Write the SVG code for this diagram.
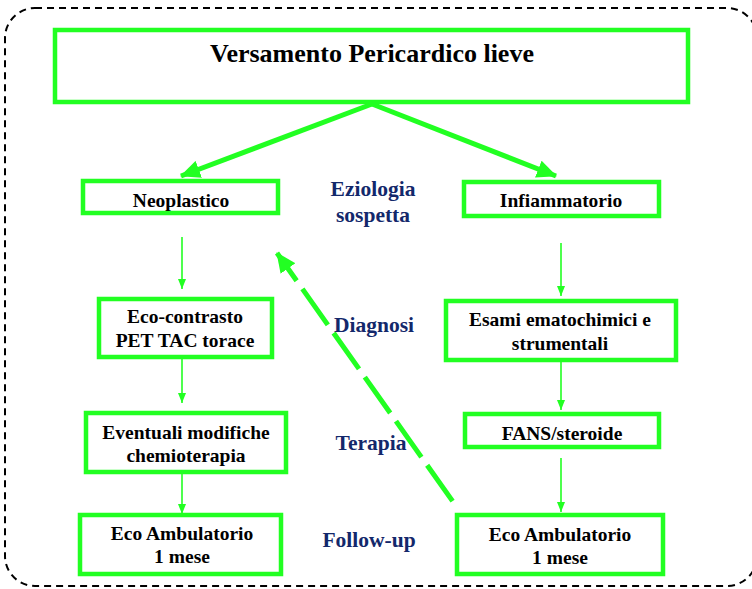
<svg xmlns="http://www.w3.org/2000/svg" width="752" height="589" viewBox="0 0 752 589">
<style>
.box{fill:#fff;stroke:#22FF22;stroke-width:4.5}
.nt{font-family:"Liberation Serif","Times New Roman",serif;font-weight:bold;font-size:19.5px;fill:#000;text-anchor:middle}
.lb{font-family:"Liberation Serif","Times New Roman",serif;font-weight:bold;font-size:21.5px;fill:#13286B;text-anchor:middle}
.thin{stroke:#22FF22;stroke-width:1.6;fill:none}
.thick{stroke:#22FF22;stroke-width:5;fill:none}
</style>
<defs>
<marker id="ah" markerUnits="userSpaceOnUse" viewBox="0 0 10 8" markerWidth="10" markerHeight="8" refX="10" refY="4" orient="auto">
<path d="M0,0 L10,4 L0,8 z" fill="#22FF22"/>
</marker>
<marker id="ahBig" markerUnits="userSpaceOnUse" viewBox="0 0 20 18" markerWidth="20" markerHeight="18" refX="19" refY="9" orient="auto">
<path d="M0,0 L20,9 L0,18 z" fill="#22FF22"/>
</marker>
<marker id="ahBigS" markerUnits="userSpaceOnUse" viewBox="0 0 20 18" markerWidth="20" markerHeight="18" refX="19" refY="9" orient="auto-start-reverse">
<path d="M0,0 L20,9 L0,18 z" fill="#22FF22"/>
</marker>
</defs>
<rect x="5" y="8" width="752" height="578" rx="30" fill="#fff" stroke="#000" stroke-width="2" stroke-dasharray="7 5"/>
<g id="connectors">
<line class="thick" x1="372" y1="104" x2="181" y2="176" marker-end="url(#ahBig)"/>
<line class="thick" x1="372" y1="104" x2="556" y2="176" marker-end="url(#ahBig)"/>
<line class="thin" x1="182" y1="237" x2="182" y2="289" marker-end="url(#ah)"/>
<line class="thin" x1="182" y1="358" x2="182" y2="403" marker-end="url(#ah)"/>
<line class="thin" x1="182" y1="468" x2="182" y2="514" marker-end="url(#ah)"/>
<line class="thin" x1="561" y1="243" x2="561" y2="296" marker-end="url(#ah)"/>
<line class="thin" x1="561" y1="360" x2="561" y2="410" marker-end="url(#ah)"/>
<line class="thin" x1="561" y1="458" x2="561" y2="512" marker-end="url(#ah)"/>
<line class="thick" x1="277" y1="253" x2="456" y2="506" stroke-dasharray="44 10" stroke-dashoffset="10" marker-start="url(#ahBigS)"/>
</g>
<g id="title">
<rect class="box" x="55" y="30" width="633" height="72" stroke-width="5"/>
<text class="nt" x="372" y="62" font-size="26px" style="font-size:26px">Versamento Pericardico lieve</text>
</g>
<g id="neoplastico">
<rect class="box" x="83" y="181" width="195" height="32"/>
<text class="nt" x="181" y="207">Neoplastico</text>
</g>
<g id="infiammatorio">
<rect class="box" x="464" y="182" width="195" height="34"/>
<text class="nt" x="561" y="207">Infiammatorio</text>
</g>
<g id="ecocontrasto">
<rect class="box" x="99" y="299" width="173" height="58"/>
<text class="nt" x="185" y="323">Eco-contrasto</text>
<text class="nt" x="185" y="347">PET TAC torace</text>
</g>
<g id="esami">
<rect class="box" x="446" y="301" width="230" height="59"/>
<text class="nt" x="560" y="326">Esami ematochimici e</text>
<text class="nt" x="560" y="350">strumentali</text>
</g>
<g id="eventuali">
<rect class="box" x="86" y="413" width="200" height="59"/>
<text class="nt" x="186" y="439">Eventuali modifiche</text>
<text class="nt" x="186" y="462">chemioterapia</text>
</g>
<g id="fans">
<rect class="box" x="465" y="414" width="194" height="33"/>
<text class="nt" x="562" y="440">FANS/steroide</text>
</g>
<g id="eco-left">
<rect class="box" x="80" y="515" width="201" height="59"/>
<text class="nt" x="182" y="540">Eco Ambulatorio</text>
<text class="nt" x="182" y="563">1 mese</text>
</g>
<g id="eco-right">
<rect class="box" x="457" y="515" width="206" height="59"/>
<text class="nt" x="560" y="541">Eco Ambulatorio</text>
<text class="nt" x="560" y="564">1 mese</text>
</g>
<g id="labels">
<text class="lb" x="373" y="196">Eziologia</text>
<text class="lb" x="373" y="222">sospetta</text>
<text class="lb" x="374" y="332">Diagnosi</text>
<text class="lb" x="371" y="450">Terapia</text>
<text class="lb" x="369" y="547">Follow-up</text>
</g>
</svg>
